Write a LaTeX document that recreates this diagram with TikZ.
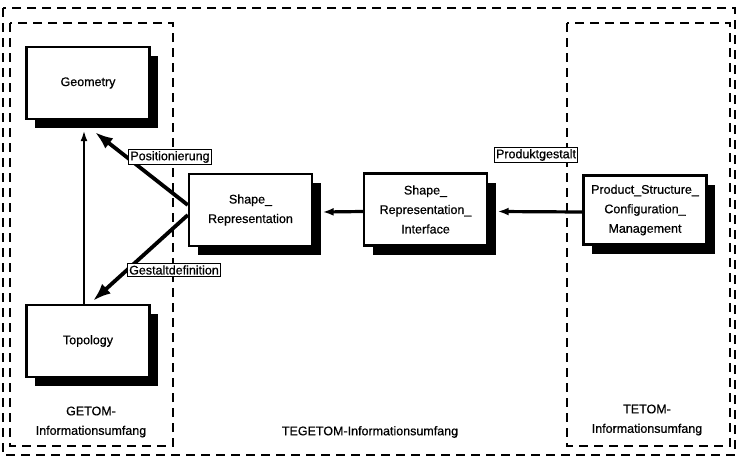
\documentclass[tikz,border=0pt]{standalone}
\usepackage{fontspec}
\setmainfont[FakeBold=0.6]{Liberation Sans}
\usetikzlibrary{arrows.meta,shadows}
\begin{document}
\begin{tikzpicture}[x=1pt,y=-1pt,
  font=\fontsize{12.5}{19.5}\selectfont,
  entity/.style={draw,line width=2.4pt,fill=white,minimum width=123pt,minimum height=72pt,
    inner sep=0pt,align=center,
    drop shadow={shadow xshift=8.5pt,shadow yshift=-9pt,fill=black,opacity=1}},
  scopebox/.style={line width=1.7pt,dash pattern=on 9pt off 6pt},
  rolelabel/.style={draw,line width=1.2pt,fill=white,inner sep=1.8pt},
  role/.style={line width=3.8pt,-{Latex[length=18pt,width=13pt]}},
  link/.style={line width=3.2pt,-{Latex[length=11pt,width=8pt]}},
  thinlink/.style={line width=2.6pt,-{Latex[length=11pt,width=7pt]}}]
\useasboundingbox (0,0) rectangle (737,461);

% scopes of information
\draw[scopebox] (3,8) rectangle (735,455);
\draw[scopebox] (10,23) rectangle (173,446);
\draw[scopebox] (567,23) rectangle (730,446);

% entities
\node[entity] (geo)   at (88,83)     {Geometry};
\node[entity] (topo)  at (88,341)    {Topology};
\node[entity] (shape) at (250.5,210) {Shape\_\\Representation};
\node[entity] (iface) at (425.5,209.5) {Shape\_\\Representation\_\\Interface};
\node[entity,minimum height=69pt] (pscm) at (645,210) {Product\_Structure\_\\Configuration\_\\Management};

% relations
\draw[thinlink] ([xshift=-4pt]topo.north) -- ([xshift=-4pt,yshift=-10pt]geo.south);
\draw[role] ([yshift=5pt]shape.west) -- ([xshift=7pt,yshift=-12pt]geo.south);
\draw[role] ([yshift=-5pt]shape.west) -- ([xshift=5pt,yshift=3pt]topo.north);
\draw[link] ([yshift=-2pt]iface.west) -- ([xshift=9.5pt,yshift=-2pt]shape.east);
\draw[link] ([yshift=-2pt]pscm.west) -- ([xshift=9.5pt,yshift=-2pt]iface.east);

% role names
\node[rolelabel] (lpos) at (170,157) {Positionierung};
\node[rolelabel] (lges) at (174,270) {Gestaltdefinition};
\node[rolelabel] (lprod) at (536,155) {Produktgestalt};

% scope names
\node[align=center] (getom) at (91,422) {GETOM-\\Informationsumfang};
\node (tegetom) at (370,432) {TEGETOM-Informationsumfang};
\node[align=center] (tetom) at (647,420) {TETOM-\\Informationsumfang};
\end{tikzpicture}
\end{document}
